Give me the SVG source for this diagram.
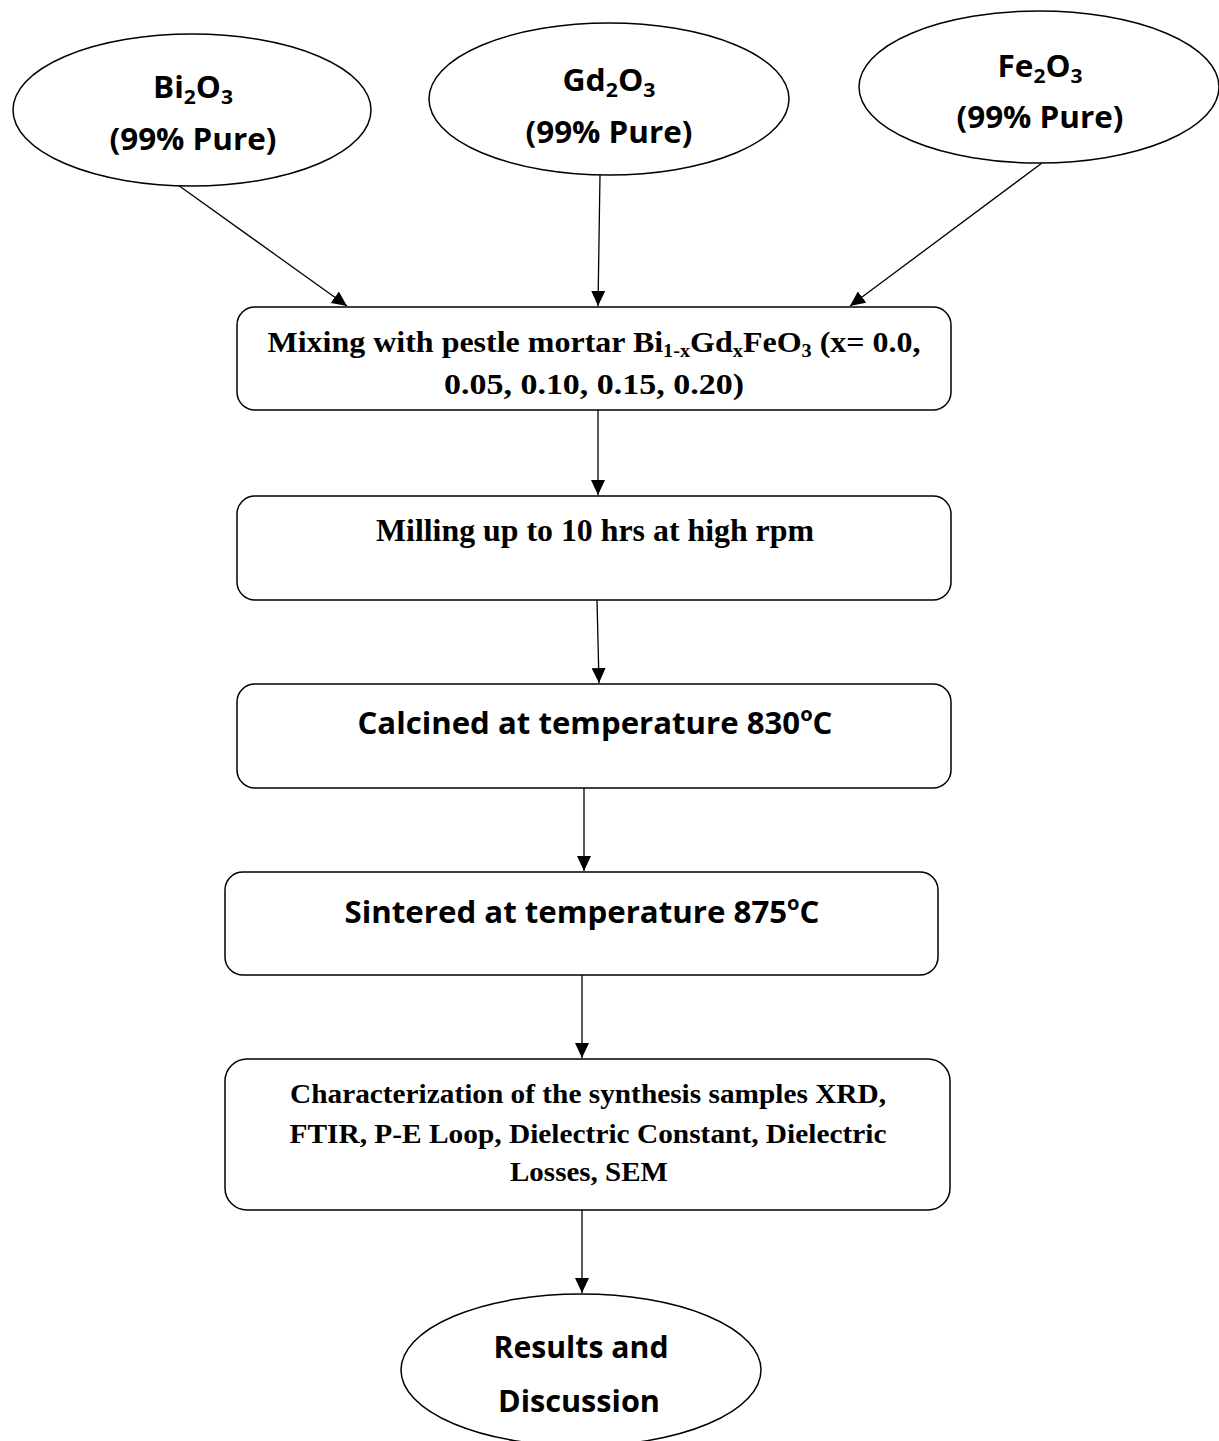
<svg xmlns="http://www.w3.org/2000/svg" width="1219" height="1441" viewBox="0 0 1219 1441">
<defs>
<marker id="ah" markerUnits="userSpaceOnUse" markerWidth="16" markerHeight="14" refX="15" refY="7" orient="auto">
<path d="M0,0 L15,7 L0,14 Z" fill="#000"/>
</marker>
<style>
.sh{fill:#fff;stroke:#000;stroke-width:1.5}
.c{stroke:#000;stroke-width:1.3;fill:none;marker-end:url(#ah)}
.cal{font-family:"Open Sans","Noto Sans","Liberation Sans",sans-serif;font-weight:bold;fill:#000}
.tim{font-family:"Liberation Serif","Times New Roman",serif;font-weight:bold;fill:#000}
</style>
</defs>
<rect width="1219" height="1441" fill="#fff"/>
<g id="connectors">
<line class="c" x1="178" y1="185" x2="347" y2="306"/>
<line class="c" x1="600" y1="175" x2="598" y2="306"/>
<line class="c" x1="1042" y1="163" x2="850" y2="306"/>
<line class="c" x1="598" y1="410" x2="598" y2="495"/>
<line class="c" x1="597" y1="600" x2="599" y2="683"/>
<line class="c" x1="584" y1="788" x2="584" y2="871"/>
<line class="c" x1="582" y1="975" x2="582" y2="1058"/>
<line class="c" x1="582" y1="1210" x2="582" y2="1293"/>
</g>
<g id="n-bi2o3">
<ellipse class="sh" cx="192" cy="110" rx="179" ry="76"/>
<text class="cal" x="193" y="98" font-size="30" text-anchor="middle" textLength="80" lengthAdjust="spacingAndGlyphs">Bi<tspan font-size="20" dy="6">2</tspan><tspan dy="-6">O</tspan><tspan font-size="20" dy="6">3</tspan></text>
<text class="cal" x="193" y="150" font-size="30" text-anchor="middle" textLength="167" lengthAdjust="spacingAndGlyphs">(99% Pure)</text>
</g>
<g id="n-gd2o3">
<ellipse class="sh" cx="609" cy="99" rx="180" ry="76"/>
<text class="cal" x="609" y="91" font-size="30" text-anchor="middle" textLength="93" lengthAdjust="spacingAndGlyphs">Gd<tspan font-size="20" dy="6">2</tspan><tspan dy="-6">O</tspan><tspan font-size="20" dy="6">3</tspan></text>
<text class="cal" x="609" y="143" font-size="30" text-anchor="middle" textLength="167" lengthAdjust="spacingAndGlyphs">(99% Pure)</text>
</g>
<g id="n-fe2o3">
<ellipse class="sh" cx="1039" cy="87" rx="180" ry="76"/>
<text class="cal" x="1040" y="77" font-size="30" text-anchor="middle" textLength="85" lengthAdjust="spacingAndGlyphs">Fe<tspan font-size="20" dy="6">2</tspan><tspan dy="-6">O</tspan><tspan font-size="20" dy="6">3</tspan></text>
<text class="cal" x="1040" y="128" font-size="30" text-anchor="middle" textLength="167" lengthAdjust="spacingAndGlyphs">(99% Pure)</text>
</g>
<g id="n-mixing">
<rect class="sh" x="237" y="307" width="714" height="103" rx="18"/>
<text class="tim" x="594" y="352" font-size="30" text-anchor="middle" textLength="653" lengthAdjust="spacingAndGlyphs">Mixing with pestle mortar Bi<tspan font-size="19" dy="5">1-x</tspan><tspan dy="-5">Gd</tspan><tspan font-size="19" dy="5">x</tspan><tspan dy="-5">FeO</tspan><tspan font-size="19" dy="5">3</tspan><tspan dy="-5"> (x= 0.0,</tspan></text>
<text class="tim" x="594" y="394" font-size="30" text-anchor="middle" textLength="300" lengthAdjust="spacingAndGlyphs">0.05, 0.10, 0.15, 0.20)</text>
</g>
<g id="n-milling">
<rect class="sh" x="237" y="496" width="714" height="104" rx="18"/>
<text class="tim" x="595" y="541" font-size="31" text-anchor="middle" textLength="438" lengthAdjust="spacingAndGlyphs">Milling up to 10 hrs at high rpm</text>
</g>
<g id="n-calcined">
<rect class="sh" x="237" y="684" width="714" height="104" rx="18"/>
<text class="cal" x="595" y="734" font-size="31" text-anchor="middle" textLength="475" lengthAdjust="spacingAndGlyphs">Calcined at temperature 830<tspan font-size="20" dy="-13">o</tspan><tspan dy="13">C</tspan></text>
</g>
<g id="n-sintered">
<rect class="sh" x="225" y="872" width="713" height="103" rx="18"/>
<text class="cal" x="582" y="923" font-size="31" text-anchor="middle" textLength="475" lengthAdjust="spacingAndGlyphs">Sintered at temperature 875<tspan font-size="20" dy="-13">o</tspan><tspan dy="13">C</tspan></text>
</g>
<g id="n-characterization">
<rect class="sh" x="225" y="1059" width="725" height="151" rx="22"/>
<text class="tim" x="588" y="1103" font-size="27" text-anchor="middle" textLength="596" lengthAdjust="spacingAndGlyphs">Characterization of the synthesis samples XRD,</text>
<text class="tim" x="588" y="1143" font-size="27" text-anchor="middle" textLength="597" lengthAdjust="spacingAndGlyphs">FTIR, P-E Loop, Dielectric Constant, Dielectric</text>
<text class="tim" x="589" y="1181" font-size="27" text-anchor="middle" textLength="158" lengthAdjust="spacingAndGlyphs">Losses, SEM</text>
</g>
<g id="n-results">
<ellipse class="sh" cx="581" cy="1370" rx="180" ry="76"/>
<text class="cal" x="581" y="1358" font-size="31" text-anchor="middle" textLength="175" lengthAdjust="spacingAndGlyphs">Results and</text>
<text class="cal" x="579" y="1412" font-size="31" text-anchor="middle" textLength="162" lengthAdjust="spacingAndGlyphs">Discussion</text>
</g>
</svg>
